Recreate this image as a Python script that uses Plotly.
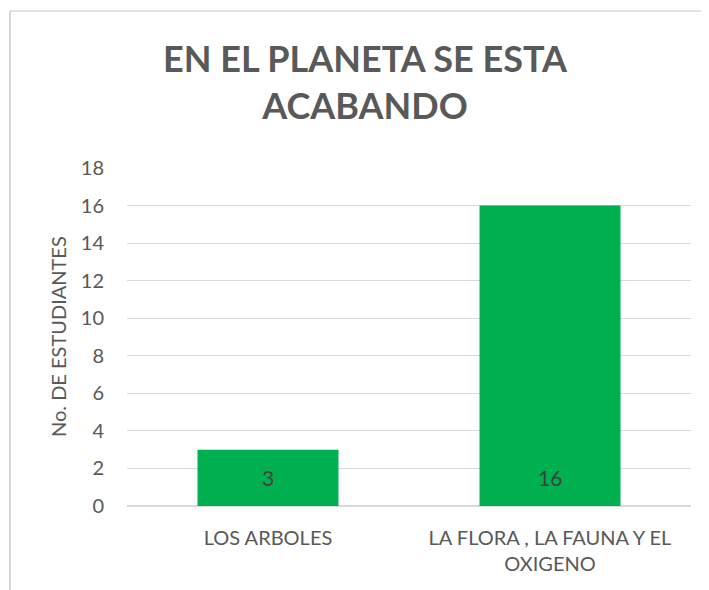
import plotly.graph_objects as go

# chart data
categories = ["LOS ARBOLES", "LA FLORA , LA FAUNA Y EL<br>OXIGENO"]
estudiantes = [3, 16]
y_ticks = list(range(0, 19, 2))

title_text = "EN EL PLANETA SE ESTA<br>ACABANDO"
y_title = "No. DE ESTUDIANTES"

# page body adds an 8px offset, so the figure's pixel layout is shifted back by it
off = 8
W, H = 709, 590
ml, mt = 127 - off, 168 - off
pw, ph = 564, 338
mr, mb = W - ml - pw, H - mt - ph

font_family = "Lato, Open Sans, sans-serif"
gray = "#595959"
grid = "#d9d9d9"

fig = go.Figure()
fig.add_trace(go.Bar(
    x=categories, y=estudiantes,
    marker=dict(color="#00b050", line=dict(width=0)),
    width=0.5, hoverinfo="x+y", showlegend=False
))

# data labels near the base of each bar
annotations = []
for cat, val in zip(categories, estudiantes):
    annotations.append(dict(
        x=cat, y=0, xref="x", yref="y",
        yanchor="bottom", yshift=14,
        text=str(val), showarrow=False,
        font=dict(family=font_family, size=21, color="#404040")
    ))

# rotated y-axis title
annotations.append(dict(
    xref="paper", yref="paper",
    x=(58 - off - ml) / pw, y=0.5, xanchor="center", yanchor="middle",
    text=y_title, showarrow=False, textangle=-90,
    font=dict(family=font_family, size=20, color=gray)
))

# chart-area border (top and left edges visible in the crop)
bx = (10 - off - ml) / pw
by = (mt + ph - (11 - off)) / ph
shapes = [
    dict(type="line", xref="paper", yref="paper",
         x0=bx, x1=1.3, y0=by, y1=by, line=dict(color=grid, width=1.5)),
    dict(type="line", xref="paper", yref="paper",
         x0=bx, x1=bx, y0=by, y1=-0.5, line=dict(color=grid, width=2)),
]

fig.update_layout(
    width=W, height=H,
    margin=dict(l=ml, r=mr, t=mt, b=mb),
    paper_bgcolor="white", plot_bgcolor="white",
    font=dict(family=font_family, size=20, color=gray),
    title=dict(
        text=title_text, x=(365 - off) / W, xanchor="center",
        y=1 - 64 / H, yanchor="top", yref="container",
        font=dict(family=font_family, size=36, color=gray, weight="bold")
    ),
    annotations=annotations,
    shapes=shapes,
    bargap=0.5,
)
fig.update_xaxes(
    showline=False, showgrid=False, ticks="",
    ticklabelstandoff=18,
    tickfont=dict(size=20, color=gray)
)
fig.update_yaxes(
    range=[0, 18], tickvals=y_ticks,
    showgrid=True, gridcolor=grid, gridwidth=1,
    zeroline=True, zerolinecolor=grid, zerolinewidth=1.5,
    showline=False, ticks="", ticklabelstandoff=22,
    tickfont=dict(size=20, color=gray)
)

fig.write_html("out.html")
